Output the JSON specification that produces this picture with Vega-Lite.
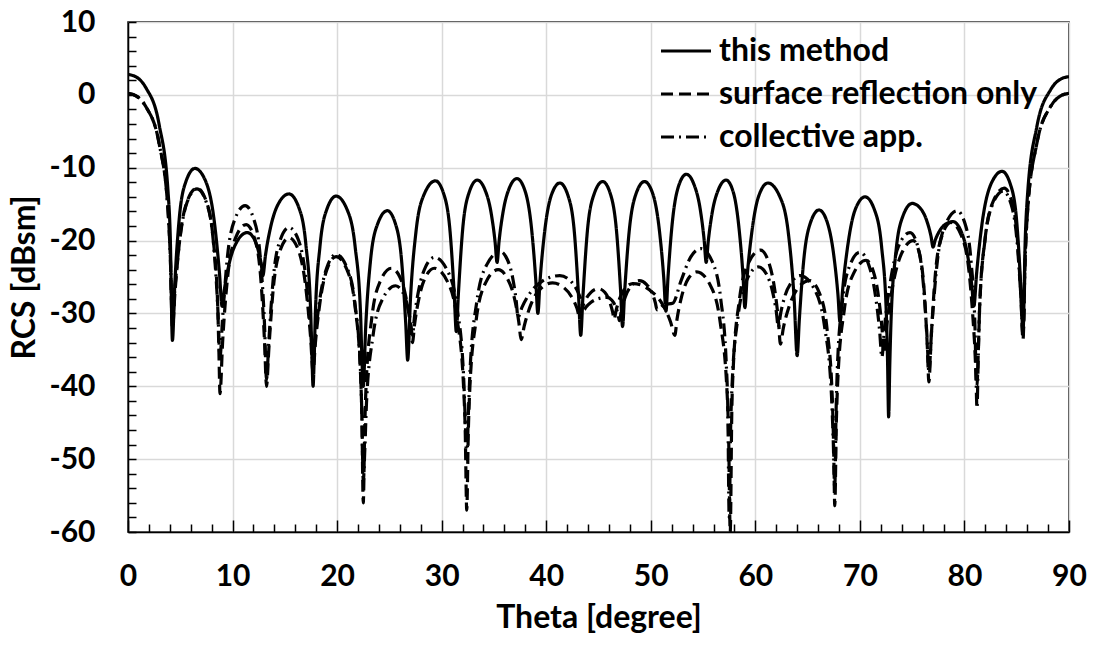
{
"$schema": "https://vega.github.io/schema/vega-lite/v6.json",
"width": 941, "height": 510,
"autosize": {"type": "none"},
"padding": {"left": 128, "top": 22, "right": 25, "bottom": 116},
"background": "white",
"config": {"font": "Lato", "view": {"stroke": "#000", "strokeWidth": 1.5}},
"data": {"values": [
{"s":"M","t":0,"v":2.8},{"s":"M","t":0.85,"v":2.4},{"s":"M","t":1.7,"v":1.0},{"s":"M","t":2.98,"v":-4.1},{"s":"M","t":3.83,"v":-13.3},{"s":"M","t":4.04,"v":-19.3},{"s":"M","t":4.25,"v":-33.7},
{"s":"M","t":4.47,"v":-26.2},{"s":"M","t":4.9,"v":-17.0},{"s":"M","t":5.54,"v":-11.9},{"s":"M","t":6.4,"v":-10.1},{"s":"M","t":7.44,"v":-11.9},{"s":"M","t":8.22,"v":-17.0},{"s":"M","t":8.74,"v":-24.3},{"s":"M","t":9.0,"v":-29},
{"s":"M","t":9.24,"v":-26.5},{"s":"M","t":9.72,"v":-22.9},{"s":"M","t":10.44,"v":-20.1},{"s":"M","t":11.4,"v":-18.9},{"s":"M","t":12.0,"v":-19.6},{"s":"M","t":12.45,"v":-21.3},{"s":"M","t":12.75,"v":-23.3},{"s":"M","t":12.9,"v":-24.8},
{"s":"M","t":13.15,"v":-22.0},{"s":"M","t":13.65,"v":-18.1},{"s":"M","t":14.4,"v":-14.9},{"s":"M","t":15.4,"v":-13.6},{"s":"M","t":16.32,"v":-15.4},{"s":"M","t":17.01,"v":-20.5},{"s":"M","t":17.47,"v":-29.7},{"s":"M","t":17.59,"v":-35.7},{"s":"M","t":17.7,"v":-40},
{"s":"M","t":17.81,"v":-36.0},{"s":"M","t":17.92,"v":-30.0},{"s":"M","t":18.36,"v":-20.8},{"s":"M","t":19.02,"v":-15.7},{"s":"M","t":19.9,"v":-13.9},{"s":"M","t":20.94,"v":-15.7},{"s":"M","t":21.72,"v":-20.8},{"s":"M","t":22.24,"v":-30.0},{"s":"M","t":22.37,"v":-36.0},{"s":"M","t":22.5,"v":-40},
{"s":"M","t":22.73,"v":-32.0},{"s":"M","t":23.19,"v":-22.8},{"s":"M","t":23.88,"v":-17.7},{"s":"M","t":24.8,"v":-15.9},{"s":"M","t":25.58,"v":-17.7},{"s":"M","t":26.17,"v":-22.8},{"s":"M","t":26.56,"v":-31.3},{"s":"M","t":26.75,"v":-36.4},
{"s":"M","t":27.02,"v":-27.9},{"s":"M","t":27.55,"v":-18.7},{"s":"M","t":28.34,"v":-13.6},{"s":"M","t":29.4,"v":-11.8},{"s":"M","t":30.2,"v":-13.6},{"s":"M","t":30.8,"v":-18.7},{"s":"M","t":31.2,"v":-27.3},{"s":"M","t":31.4,"v":-32.5},
{"s":"M","t":31.6,"v":-27.3},{"s":"M","t":32.0,"v":-18.6},{"s":"M","t":32.6,"v":-13.5},{"s":"M","t":33.4,"v":-11.7},{"s":"M","t":34.16,"v":-13.1},{"s":"M","t":34.73,"v":-16.2},{"s":"M","t":35.11,"v":-20.2},{"s":"M","t":35.3,"v":-23},
{"s":"M","t":35.49,"v":-20.1},{"s":"M","t":35.87,"v":-16.1},{"s":"M","t":36.44,"v":-12.9},{"s":"M","t":37.2,"v":-11.5},{"s":"M","t":38.0,"v":-13.3},{"s":"M","t":38.6,"v":-18.4},{"s":"M","t":39.0,"v":-25.4},{"s":"M","t":39.2,"v":-30},
{"s":"M","t":39.41,"v":-25.5},{"s":"M","t":39.83,"v":-19.0},{"s":"M","t":40.46,"v":-13.9},{"s":"M","t":41.3,"v":-12.1},{"s":"M","t":42.1,"v":-13.9},{"s":"M","t":42.7,"v":-19.0},{"s":"M","t":43.1,"v":-27.8},{"s":"M","t":43.3,"v":-33},
{"s":"M","t":43.51,"v":-27.7},{"s":"M","t":43.93,"v":-18.8},{"s":"M","t":44.56,"v":-13.7},{"s":"M","t":45.4,"v":-11.9},{"s":"M","t":46.16,"v":-13.7},{"s":"M","t":46.73,"v":-18.8},{"s":"M","t":47.11,"v":-26.8},{"s":"M","t":47.3,"v":-31.8},
{"s":"M","t":47.51,"v":-26.8},{"s":"M","t":47.93,"v":-18.8},{"s":"M","t":48.56,"v":-13.7},{"s":"M","t":49.4,"v":-11.9},{"s":"M","t":50.22,"v":-13.7},{"s":"M","t":50.84,"v":-18.8},{"s":"M","t":51.25,"v":-25.3},{"s":"M","t":51.45,"v":-29.7},
{"s":"M","t":51.65,"v":-25.0},{"s":"M","t":52.04,"v":-17.8},{"s":"M","t":52.62,"v":-12.7},{"s":"M","t":53.4,"v":-10.9},{"s":"M","t":54.16,"v":-12.4},{"s":"M","t":54.73,"v":-15.7},{"s":"M","t":55.11,"v":-20.0},{"s":"M","t":55.3,"v":-23},
{"s":"M","t":55.49,"v":-20.2},{"s":"M","t":55.87,"v":-16.2},{"s":"M","t":56.44,"v":-13.1},{"s":"M","t":57.2,"v":-11.7},{"s":"M","t":57.92,"v":-13.5},{"s":"M","t":58.46,"v":-18.6},{"s":"M","t":58.82,"v":-24.8},{"s":"M","t":59.0,"v":-29.2},
{"s":"M","t":59.22,"v":-24.9},{"s":"M","t":59.66,"v":-18.9},{"s":"M","t":60.32,"v":-13.9},{"s":"M","t":61.2,"v":-12.1},{"s":"M","t":62.32,"v":-13.9},{"s":"M","t":63.16,"v":-19.0},{"s":"M","t":63.72,"v":-28.2},{"s":"M","t":64.0,"v":-35.8},
{"s":"M","t":64.21,"v":-30.8},{"s":"M","t":64.63,"v":-22.7},{"s":"M","t":65.26,"v":-17.6},{"s":"M","t":66.1,"v":-15.8},{"s":"M","t":66.9,"v":-17.6},{"s":"M","t":67.5,"v":-22.0},{"s":"M","t":67.9,"v":-27.4},{"s":"M","t":68.1,"v":-31.2},
{"s":"M","t":68.34,"v":-26.9},{"s":"M","t":68.82,"v":-20.9},{"s":"M","t":69.54,"v":-15.8},{"s":"M","t":70.5,"v":-14.0},{"s":"M","t":71.4,"v":-15.8},{"s":"M","t":72.08,"v":-20.9},{"s":"M","t":72.53,"v":-30.1},{"s":"M","t":72.64,"v":-36.1},{"s":"M","t":72.75,"v":-44.2},
{"s":"M","t":72.86,"v":-37.0},{"s":"M","t":72.98,"v":-31.0},{"s":"M","t":73.43,"v":-21.8},{"s":"M","t":74.1,"v":-16.7},{"s":"M","t":75.0,"v":-14.9},{"s":"M","t":75.8,"v":-15.6},{"s":"M","t":76.4,"v":-17.3},{"s":"M","t":76.8,"v":-19.4},{"s":"M","t":77.0,"v":-20.9},
{"s":"M","t":77.19,"v":-20.0},{"s":"M","t":77.57,"v":-18.8},{"s":"M","t":78.14,"v":-17.8},{"s":"M","t":78.9,"v":-17.4},{"s":"M","t":79.7,"v":-18.8},{"s":"M","t":80.3,"v":-22.0},{"s":"M","t":80.7,"v":-26.1},{"s":"M","t":80.9,"v":-29},
{"s":"M","t":81.17,"v":-24.4},{"s":"M","t":81.71,"v":-17.4},{"s":"M","t":82.52,"v":-12.3},{"s":"M","t":83.6,"v":-10.5},{"s":"M","t":84.4,"v":-12.3},{"s":"M","t":85.0,"v":-17.4},{"s":"M","t":85.4,"v":-26.6},{"s":"M","t":85.6,"v":-32.5},
{"s":"M","t":85.82,"v":-19.6},{"s":"M","t":86.04,"v":-13.6},{"s":"M","t":86.92,"v":-4.4},{"s":"M","t":88.24,"v":0.7},{"s":"M","t":89.12,"v":2.1},{"s":"M","t":90,"v":2.5},

{"s":"S","t":0,"v":0.2},{"s":"S","t":0.85,"v":-0.2},{"s":"S","t":1.7,"v":-1.6},{"s":"S","t":2.98,"v":-6.7},{"s":"S","t":3.83,"v":-15.9},{"s":"S","t":4.04,"v":-21.9},{"s":"S","t":4.25,"v":-32},
{"s":"S","t":4.49,"v":-27.2},{"s":"S","t":4.96,"v":-19.7},{"s":"S","t":5.66,"v":-14.6},{"s":"S","t":6.6,"v":-12.8},{"s":"S","t":7.48,"v":-14.6},{"s":"S","t":8.14,"v":-19.7},{"s":"S","t":8.58,"v":-28.9},{"s":"S","t":8.69,"v":-34.9},{"s":"S","t":8.8,"v":-41},
{"s":"S","t":9.05,"v":-33.9},{"s":"S","t":9.55,"v":-24.7},{"s":"S","t":10.3,"v":-19.6},{"s":"S","t":11.3,"v":-17.8},{"s":"S","t":12.08,"v":-19.6},{"s":"S","t":12.67,"v":-24.7},{"s":"S","t":13.06,"v":-33.9},{"s":"S","t":13.25,"v":-40},
{"s":"S","t":13.47,"v":-34.9},{"s":"S","t":13.9,"v":-26.5},{"s":"S","t":14.54,"v":-21.4},{"s":"S","t":15.4,"v":-19.6},{"s":"S","t":16.32,"v":-21.4},{"s":"S","t":17.01,"v":-26.5},{"s":"S","t":17.47,"v":-33.4},{"s":"S","t":17.7,"v":-38},
{"s":"S","t":17.92,"v":-34.1},{"s":"S","t":18.36,"v":-28.5},{"s":"S","t":19.02,"v":-24.0},{"s":"S","t":19.9,"v":-22.2},{"s":"S","t":20.94,"v":-24.0},{"s":"S","t":21.72,"v":-29.1},{"s":"S","t":22.24,"v":-38.3},{"s":"S","t":22.37,"v":-44.3},{"s":"S","t":22.5,"v":-56},
{"s":"S","t":22.64,"v":-45.9},{"s":"S","t":22.77,"v":-39.9},{"s":"S","t":23.31,"v":-30.7},{"s":"S","t":24.12,"v":-25.6},{"s":"S","t":25.2,"v":-23.8},{"s":"S","t":26.0,"v":-25.0},{"s":"S","t":26.6,"v":-27.9},{"s":"S","t":27.0,"v":-31.5},{"s":"S","t":27.2,"v":-34},
{"s":"S","t":27.41,"v":-31.5},{"s":"S","t":27.83,"v":-27.9},{"s":"S","t":28.46,"v":-25.0},{"s":"S","t":29.3,"v":-23.8},{"s":"S","t":30.54,"v":-25.6},{"s":"S","t":31.47,"v":-30.7},{"s":"S","t":32.09,"v":-39.9},{"s":"S","t":32.25,"v":-45.9},{"s":"S","t":32.4,"v":-57},
{"s":"S","t":32.55,"v":-46.1},{"s":"S","t":32.7,"v":-40.1},{"s":"S","t":33.3,"v":-30.9},{"s":"S","t":34.2,"v":-25.8},{"s":"S","t":35.4,"v":-24.0},{"s":"S","t":36.28,"v":-25.2},{"s":"S","t":36.94,"v":-27.8},{"s":"S","t":37.38,"v":-31.2},{"s":"S","t":37.6,"v":-33.6},
{"s":"S","t":37.9,"v":-31.7},{"s":"S","t":38.5,"v":-28.9},{"s":"S","t":39.4,"v":-26.7},{"s":"S","t":40.6,"v":-25.8},{"s":"S","t":41.64,"v":-26.4},{"s":"S","t":42.42,"v":-27.7},{"s":"S","t":42.94,"v":-29.3},{"s":"S","t":43.2,"v":-30.5},
{"s":"S","t":43.38,"v":-29.5},{"s":"S","t":43.74,"v":-28.2},{"s":"S","t":44.28,"v":-27.1},{"s":"S","t":45.0,"v":-26.6},{"s":"S","t":45.6,"v":-27.1},{"s":"S","t":46.05,"v":-28.3},{"s":"S","t":46.35,"v":-29.8},{"s":"S","t":46.5,"v":-30.8},
{"s":"S","t":46.68,"v":-29.6},{"s":"S","t":47.04,"v":-27.9},{"s":"S","t":47.58,"v":-26.5},{"s":"S","t":48.3,"v":-25.9},{"s":"S","t":49.9,"v":-26.8},{"s":"S","t":51.1,"v":-28.7},{"s":"S","t":51.9,"v":-31.2},{"s":"S","t":52.3,"v":-33},
{"s":"S","t":52.51,"v":-30.8},{"s":"S","t":52.93,"v":-27.8},{"s":"S","t":53.56,"v":-25.3},{"s":"S","t":54.4,"v":-24.3},{"s":"S","t":55.68,"v":-26.1},{"s":"S","t":56.64,"v":-31.2},{"s":"S","t":57.28,"v":-40.4},{"s":"S","t":57.44,"v":-46.4},{"s":"S","t":57.6,"v":-60},
{"s":"S","t":57.75,"v":-43.4},{"s":"S","t":57.89,"v":-37.4},{"s":"S","t":58.47,"v":-28.2},{"s":"S","t":59.34,"v":-23.1},{"s":"S","t":60.5,"v":-21.3},{"s":"S","t":61.26,"v":-22.9},{"s":"S","t":61.83,"v":-26.5},{"s":"S","t":62.21,"v":-31.0},{"s":"S","t":62.4,"v":-34.2},
{"s":"S","t":62.68,"v":-32.0},{"s":"S","t":63.24,"v":-29.0},{"s":"S","t":64.08,"v":-26.5},{"s":"S","t":65.2,"v":-25.5},{"s":"S","t":66.16,"v":-27.3},{"s":"S","t":66.88,"v":-32.4},{"s":"S","t":67.36,"v":-41.6},{"s":"S","t":67.48,"v":-47.6},{"s":"S","t":67.6,"v":-56.4},
{"s":"S","t":67.75,"v":-44.8},{"s":"S","t":67.9,"v":-38.8},{"s":"S","t":68.5,"v":-29.6},{"s":"S","t":69.4,"v":-24.5},{"s":"S","t":70.6,"v":-22.7},{"s":"S","t":71.28,"v":-24.2},{"s":"S","t":71.79,"v":-27.8},{"s":"S","t":72.13,"v":-32.3},{"s":"S","t":72.3,"v":-35.5},
{"s":"S","t":72.58,"v":-31.6},{"s":"S","t":73.14,"v":-26.2},{"s":"S","t":73.98,"v":-21.8},{"s":"S","t":75.1,"v":-20.0},{"s":"S","t":75.7,"v":-21.8},{"s":"S","t":76.15,"v":-26.9},{"s":"S","t":76.45,"v":-34.6},{"s":"S","t":76.6,"v":-39.4},
{"s":"S","t":76.81,"v":-33.6},{"s":"S","t":77.23,"v":-24.4},{"s":"S","t":77.86,"v":-19.3},{"s":"S","t":78.7,"v":-17.5},{"s":"S","t":79.7,"v":-19.3},{"s":"S","t":80.45,"v":-24.4},{"s":"S","t":80.95,"v":-33.6},{"s":"S","t":81.2,"v":-40},
{"s":"S","t":81.33,"v":-34.9},{"s":"S","t":81.46,"v":-28.9},{"s":"S","t":81.98,"v":-19.7},{"s":"S","t":82.76,"v":-14.6},{"s":"S","t":83.8,"v":-12.8},{"s":"S","t":84.52,"v":-14.6},{"s":"S","t":85.06,"v":-19.7},{"s":"S","t":85.42,"v":-28.4},{"s":"S","t":85.6,"v":-33.6},
{"s":"S","t":85.82,"v":-21.9},{"s":"S","t":86.04,"v":-15.9},{"s":"S","t":86.92,"v":-6.7},{"s":"S","t":88.24,"v":-1.6},{"s":"S","t":89.12,"v":-0.2},{"s":"S","t":90,"v":0.2},

{"s":"C","t":0,"v":0.2},{"s":"C","t":0.85,"v":-0.2},{"s":"C","t":1.7,"v":-1.6},{"s":"C","t":2.98,"v":-6.7},{"s":"C","t":3.83,"v":-15.9},{"s":"C","t":4.04,"v":-21.9},{"s":"C","t":4.25,"v":-31},
{"s":"C","t":4.49,"v":-26.5},{"s":"C","t":4.96,"v":-19.8},{"s":"C","t":5.66,"v":-14.7},{"s":"C","t":6.6,"v":-12.9},{"s":"C","t":7.48,"v":-14.7},{"s":"C","t":8.14,"v":-19.8},{"s":"C","t":8.58,"v":-29.0},{"s":"C","t":8.8,"v":-36},
{"s":"C","t":9.04,"v":-30.8},{"s":"C","t":9.52,"v":-22.1},{"s":"C","t":10.24,"v":-17.0},{"s":"C","t":11.2,"v":-15.2},{"s":"C","t":12.02,"v":-17.0},{"s":"C","t":12.64,"v":-22.1},{"s":"C","t":13.05,"v":-31.3},{"s":"C","t":13.25,"v":-39},
{"s":"C","t":13.47,"v":-33.8},{"s":"C","t":13.9,"v":-25.1},{"s":"C","t":14.54,"v":-20.0},{"s":"C","t":15.4,"v":-18.2},{"s":"C","t":16.32,"v":-20.0},{"s":"C","t":17.01,"v":-25.1},{"s":"C","t":17.47,"v":-32.3},{"s":"C","t":17.7,"v":-37},
{"s":"C","t":17.92,"v":-33.2},{"s":"C","t":18.36,"v":-27.9},{"s":"C","t":19.02,"v":-23.7},{"s":"C","t":19.9,"v":-21.9},{"s":"C","t":20.94,"v":-23.7},{"s":"C","t":21.72,"v":-28.8},{"s":"C","t":22.24,"v":-38.0},{"s":"C","t":22.37,"v":-44.0},{"s":"C","t":22.5,"v":-53},
{"s":"C","t":22.66,"v":-48.3},{"s":"C","t":22.81,"v":-42.3},{"s":"C","t":23.43,"v":-33.1},{"s":"C","t":24.36,"v":-28.0},{"s":"C","t":25.6,"v":-26.2},{"s":"C","t":26.24,"v":-27.0},{"s":"C","t":26.72,"v":-28.9},{"s":"C","t":27.04,"v":-31.3},{"s":"C","t":27.2,"v":-33},
{"s":"C","t":27.41,"v":-30.3},{"s":"C","t":27.83,"v":-26.6},{"s":"C","t":28.46,"v":-23.6},{"s":"C","t":29.3,"v":-22.3},{"s":"C","t":30.54,"v":-24.1},{"s":"C","t":31.47,"v":-29.2},{"s":"C","t":32.09,"v":-38.4},{"s":"C","t":32.25,"v":-44.4},{"s":"C","t":32.4,"v":-50},
{"s":"C","t":32.56,"v":-43.6},{"s":"C","t":32.72,"v":-37.6},{"s":"C","t":33.36,"v":-28.4},{"s":"C","t":34.32,"v":-23.3},{"s":"C","t":35.6,"v":-21.5},{"s":"C","t":36.28,"v":-22.6},{"s":"C","t":36.79,"v":-25.1},{"s":"C","t":37.13,"v":-28.3},{"s":"C","t":37.3,"v":-30.5},
{"s":"C","t":37.7,"v":-29.1},{"s":"C","t":38.5,"v":-27.1},{"s":"C","t":39.7,"v":-25.5},{"s":"C","t":41.3,"v":-24.8},{"s":"C","t":42.22,"v":-25.4},{"s":"C","t":42.91,"v":-26.7},{"s":"C","t":43.37,"v":-28.3},{"s":"C","t":43.6,"v":-29.5},
{"s":"C","t":43.82,"v":-29.1},{"s":"C","t":44.26,"v":-28.5},{"s":"C","t":44.92,"v":-28.0},{"s":"C","t":45.8,"v":-27.8},{"s":"C","t":46.28,"v":-28.2},{"s":"C","t":46.64,"v":-29.1},{"s":"C","t":46.88,"v":-30.2},{"s":"C","t":47.0,"v":-31},
{"s":"C","t":47.19,"v":-29.6},{"s":"C","t":47.57,"v":-27.7},{"s":"C","t":48.14,"v":-26.2},{"s":"C","t":48.9,"v":-25.5},{"s":"C","t":49.58,"v":-26.0},{"s":"C","t":50.09,"v":-27.1},{"s":"C","t":50.43,"v":-28.5},{"s":"C","t":50.6,"v":-29.5},
{"s":"C","t":51.3,"v":-28.8},{"s":"C","t":52.1,"v":-28.6},{"s":"C","t":52.9,"v":-25.5},{"s":"C","t":53.8,"v":-22.3},{"s":"C","t":54.8,"v":-21.1},{"s":"C","t":55.88,"v":-22.9},{"s":"C","t":56.69,"v":-28.0},{"s":"C","t":57.23,"v":-37.2},{"s":"C","t":57.37,"v":-43.2},{"s":"C","t":57.5,"v":-58},
{"s":"C","t":57.64,"v":-45.7},{"s":"C","t":57.78,"v":-39.7},{"s":"C","t":58.34,"v":-30.5},{"s":"C","t":59.18,"v":-25.4},{"s":"C","t":60.3,"v":-23.6},{"s":"C","t":61.06,"v":-24.6},{"s":"C","t":61.63,"v":-26.9},{"s":"C","t":62.01,"v":-29.8},{"s":"C","t":62.2,"v":-31.9},
{"s":"C","t":62.41,"v":-30.1},{"s":"C","t":62.83,"v":-27.6},{"s":"C","t":63.46,"v":-25.7},{"s":"C","t":64.3,"v":-24.8},{"s":"C","t":65.62,"v":-26.6},{"s":"C","t":66.61,"v":-31.7},{"s":"C","t":67.27,"v":-40.9},{"s":"C","t":67.44,"v":-46.9},{"s":"C","t":67.6,"v":-54},
{"s":"C","t":67.72,"v":-43.7},{"s":"C","t":67.84,"v":-37.7},{"s":"C","t":68.32,"v":-28.5},{"s":"C","t":69.04,"v":-23.4},{"s":"C","t":70.0,"v":-21.6},{"s":"C","t":70.84,"v":-23.3},{"s":"C","t":71.47,"v":-27.4},{"s":"C","t":71.89,"v":-32.4},{"s":"C","t":72.1,"v":-36},
{"s":"C","t":72.37,"v":-31.7},{"s":"C","t":72.91,"v":-25.7},{"s":"C","t":73.72,"v":-20.7},{"s":"C","t":74.8,"v":-18.9},{"s":"C","t":75.52,"v":-20.7},{"s":"C","t":76.06,"v":-25.8},{"s":"C","t":76.42,"v":-33.2},{"s":"C","t":76.6,"v":-38},
{"s":"C","t":76.87,"v":-32.0},{"s":"C","t":77.41,"v":-22.8},{"s":"C","t":78.22,"v":-17.7},{"s":"C","t":79.3,"v":-15.9},{"s":"C","t":80.06,"v":-17.7},{"s":"C","t":80.63,"v":-22.8},{"s":"C","t":81.01,"v":-32.0},{"s":"C","t":81.1,"v":-38.0},{"s":"C","t":81.2,"v":-43},
{"s":"C","t":81.33,"v":-35.3},{"s":"C","t":81.45,"v":-29.3},{"s":"C","t":81.95,"v":-20.1},{"s":"C","t":82.7,"v":-15.0},{"s":"C","t":83.7,"v":-13.2},{"s":"C","t":84.46,"v":-15.0},{"s":"C","t":85.03,"v":-20.1},{"s":"C","t":85.41,"v":-28.1},{"s":"C","t":85.6,"v":-33},
{"s":"C","t":85.82,"v":-21.9},{"s":"C","t":86.04,"v":-15.9},{"s":"C","t":86.92,"v":-6.7},{"s":"C","t":88.24,"v":-1.6},{"s":"C","t":89.12,"v":-0.2},{"s":"C","t":90,"v":0.2}
]},
"mark": {"type": "line", "interpolate": "monotone", "strokeWidth": 3.2, "color": "#000", "clip": true},
"encoding": {
  "x": {"field": "t", "type": "quantitative",
    "scale": {"domain": [0, 90], "nice": false, "zero": false},
    "axis": {"title": "Theta [degree]",
      "values": [0,2,4,6,8,10,12,14,16,18,20,22,24,26,28,30,32,34,36,38,40,42,44,46,48,50,52,54,56,58,60,62,64,66,68,70,72,74,76,78,80,82,84,86,88,90],
      "labelExpr": "datum.value % 10 === 0 ? datum.label : ''",
      "labelOverlap": false, "labelFlush": false,
      "labelFont": "Lato", "labelFontSize": 30, "labelFontWeight": "bold", "labelColor": "#000", "labelPadding": 41,
      "tickSize": {"condition": {"test": "datum.value % 10 === 0", "value": -12}, "value": -8},
      "tickColor": "#000", "tickWidth": 1.5,
      "domainColor": "#000", "domainWidth": 1.5,
      "grid": true, "gridColor": "#d9d9d9", "gridWidth": 1.5,
      "gridOpacity": {"condition": {"test": "datum.value % 10 === 0", "value": 1}, "value": 0},
      "titleFont": "Lato", "titleFontSize": 32, "titleFontWeight": "bold", "titleColor": "#000", "titlePadding": 7}},
  "y": {"field": "v", "type": "quantitative",
    "scale": {"domain": [-60, 10], "nice": false, "zero": false},
    "axis": {"title": "RCS [dBsm]",
      "values": [-60,-58,-56,-54,-52,-50,-48,-46,-44,-42,-40,-38,-36,-34,-32,-30,-28,-26,-24,-22,-20,-18,-16,-14,-12,-10,-8,-6,-4,-2,0,2,4,6,8,10],
      "labelExpr": "datum.value % 10 === 0 ? '' + datum.value : ''",
      "labelOverlap": false, "labelFlush": false,
      "labelFont": "Lato", "labelFontSize": 30, "labelFontWeight": "bold", "labelColor": "#000", "labelPadding": 41,
      "tickSize": -8, "tickColor": "#000", "tickWidth": 1.5,
      "domainColor": "#000", "domainWidth": 1.5,
      "grid": true, "gridColor": "#d9d9d9", "gridWidth": 1.5,
      "gridOpacity": {"condition": {"test": "datum.value % 10 === 0", "value": 1}, "value": 0},
      "titleFont": "Lato", "titleFontSize": 32, "titleFontWeight": "bold", "titleColor": "#000", "titlePadding": 8}},
  "strokeDash": {"field": "s", "type": "nominal",
    "scale": {"domain": ["M", "S", "C"], "range": [[1, 0], [12, 6], [13, 5, 2, 5]]},
    "legend": {"orient": "none", "legendX": 531, "legendY": 2, "title": null,
      "symbolType": "stroke", "symbolSize": 2500, "symbolStrokeWidth": 3.2, "symbolStrokeColor": "#000",
      "labelExpr": "datum.label == 'M' ? 'this method' : datum.label == 'S' ? 'surface reflection only' : 'collective app.'",
      "labelFont": "Lato", "labelFontSize": 32, "labelFontWeight": "bold", "labelColor": "#000",
      "labelOffset": 6, "labelLimit": 0, "rowPadding": -1.5}}
}
}
